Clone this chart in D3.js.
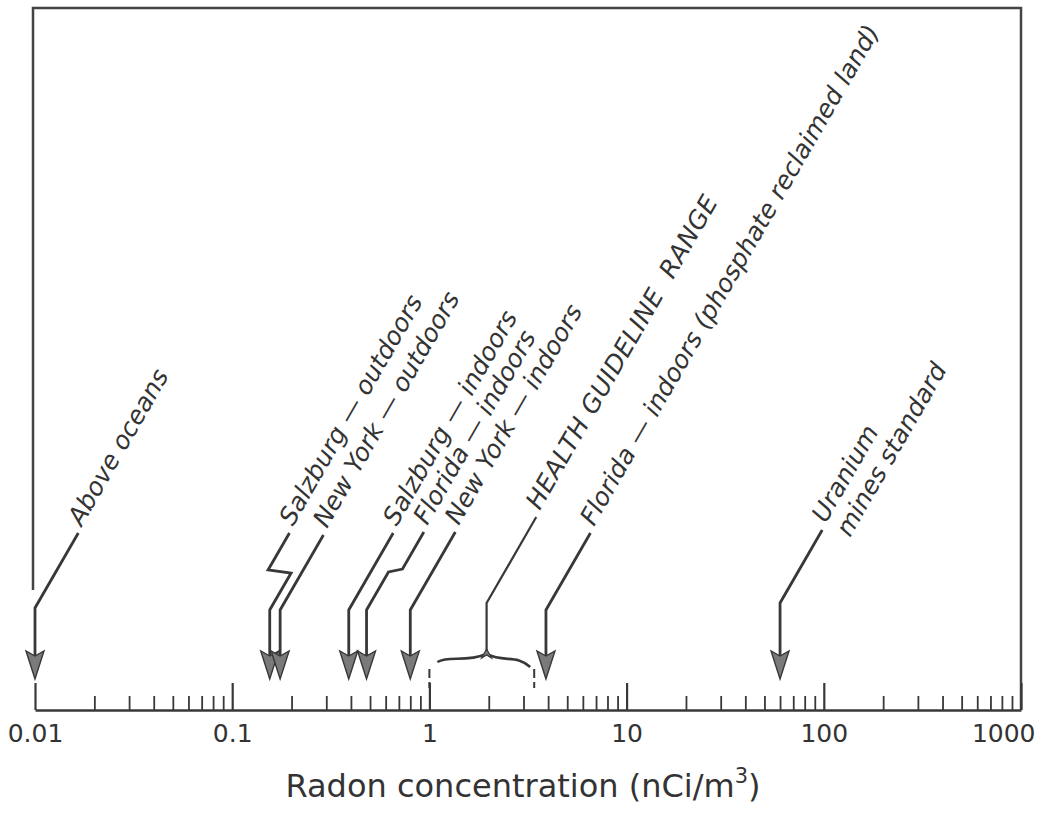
<!DOCTYPE html>
<html>
<head>
<meta charset="utf-8">
<script src="https://cdn.jsdelivr.net/npm/d3@7"></script>
<style>
  html, body { margin: 0; padding: 0; background: #fff; }
  svg { display: block; }
  text { font-family: "DejaVu Sans", "Liberation Sans", sans-serif; fill: #333; }
</style>
</head>
<body>
<svg id="chart"></svg>
<script>
(function () {
    'use strict';

    const width = 1047;
    const height = 816;

    // data
    const majorTicks = [0.01, 0.1, 1, 10, 100, 1000];
    const tickLabels = ['0.01', '0.1', '1', '10', '100', '1000'];
    const labels = [
        'Above oceans',
        'Salzburg \u2014 outdoors',
        'New York \u2014 outdoors',
        'Salzburg \u2014 indoors',
        'Florida \u2014 indoors',
        'New York \u2014 indoors',
        'Florida \u2014 indoors (phosphate reclaimed land)',
        'Uranium|mines standard'
    ];
    const values = [0.01, 0.155, 0.175, 0.39, 0.48, 0.8, 3.9, 60];
    const healthLabel = 'HEALTH GUIDELINE  RANGE';
    const healthRange = [1, 3.4];
    const healthPoint = 1.95;
    const axisTitle = 'Radon concentration (nCi/m';

    // layout for the leader lines (stem top, label end, optional jog)
    const leaders = [
        { top: 608, end: 533 },
        { top: 610, end: 533, jog: { y: 573, dx: -23 } },
        { top: 610, end: 535 },
        { top: 610, end: 533 },
        { top: 610, end: 532, jog: { y: 572, dx: 14 } },
        { top: 610, end: 532 },
        { top: 610, end: 533 },
        { top: 603, end: 530 }
    ];

    const axisY = 710;
    const tipY = 679;
    const headLen = 28;
    const headW = 9;
    const angle = 60;
    const cosA = Math.cos(angle * Math.PI / 180);
    const sinA = Math.sin(angle * Math.PI / 180);
    const labelSize = 25;
    const ink = '#383838';

    const x = d3.scaleLog()
        .domain([0.01, 1000])
        .range([35, 1021]);

    const svg = d3.select('#chart')
        .attr('width', width)
        .attr('height', height)
        .attr('viewBox', [0, 0, width, height]);

    // frame (open at the lower left)
    svg.append('path')
        .attr('d', d3.line()([
            [x(0.01) - 2, 590], [x(0.01) - 2, 8], [x(1000), 8], [x(1000), axisY]
        ]))
        .attr('fill', 'none')
        .attr('stroke', '#444')
        .attr('stroke-width', 2.5);

    // minor ticks
    const minor = [];
    majorTicks.slice(0, -1).forEach(d => {
        for (let k = 2; k <= 9; k++) minor.push(d * k);
    });
    const minorAxis = svg.append('g')
        .attr('transform', `translate(0,${axisY})`)
        .call(d3.axisBottom(x).tickValues(minor).tickSizeInner(-14).tickSizeOuter(0).tickFormat(''));
    minorAxis.select('.domain').remove();
    minorAxis.selectAll('line').attr('stroke', ink).attr('stroke-width', 1.8);

    // major ticks + labels
    const majorAxis = svg.append('g')
        .attr('transform', `translate(0,${axisY})`)
        .call(d3.axisBottom(x)
            .tickValues(majorTicks)
            .tickSizeInner(-27)
            .tickSizeOuter(0)
            .tickPadding(14)
            .tickFormat((d, i) => tickLabels[i]));
    majorAxis.attr('font-family', null).attr('font-size', null);
    majorAxis.select('.domain').attr('stroke', ink).attr('stroke-width', 2.5);
    majorAxis.selectAll('line').attr('stroke', ink).attr('stroke-width', 2.2);
    majorAxis.selectAll('text')
        .style('font-size', '25px')
        .attr('fill', '#333');
    // last label is pulled in so it stays inside the page
    majorAxis.selectAll('text').filter(d => d === 1000)
        .attr('text-anchor', 'end')
        .attr('x', 14);

    // axis title
    const title = svg.append('text')
        .attr('x', 523)
        .attr('y', 797)
        .attr('text-anchor', 'middle')
        .style('font-size', '32px');
    title.append('tspan').text(axisTitle);
    title.append('tspan').attr('dy', -14).style('font-size', '21px').text('3');
    title.append('tspan').attr('dy', 14).text(')');

    const arrowHead = (cx, ty, len, w) => d3.line()([
        [cx, ty], [cx - w, ty - len], [cx, ty - len + 5], [cx + w, ty - len], [cx, ty]
    ]) + 'Z';

    const leaderPath = (x0, L) => {
        const pts = [[x0, tipY - headLen + 5], [x0, L.top]];
        let cx = x0;
        let cy = L.top;
        if (L.jog) {
            cx += (cy - L.jog.y) / Math.tan(angle * Math.PI / 180);
            cy = L.jog.y;
            pts.push([cx, cy]);
            cx += L.jog.dx;
            cy -= 3;
            pts.push([cx, cy]);
        }
        cx += (cy - L.end) / Math.tan(angle * Math.PI / 180);
        cy = L.end;
        pts.push([cx, cy]);
        return pts;
    };

    const addLabel = (pt, text, spacing) => {
        const lines = text.split('|');
        const g = svg.append('g')
            .attr('transform', `translate(${pt[0] + 7 * cosA},${pt[1] - 7 * sinA}) rotate(${-angle})`);
        lines.forEach((t, i) => {
            g.append('text')
                .attr('x', 0)
                .attr('y', i * 28)
                .style('font-size', labelSize + 'px')
                .style('font-style', 'italic')
                .style('letter-spacing', spacing || null)
                .style('white-space', 'pre')
                .text(t);
        });
    };

    // annotations
    values.forEach((v, i) => {
        const x0 = x(v);
        const pts = leaderPath(x0, leaders[i]);
        svg.append('path')
            .attr('d', d3.line()(pts))
            .attr('fill', 'none')
            .attr('stroke', ink)
            .attr('stroke-width', 2.8)
            .attr('stroke-linejoin', 'miter');
        svg.append('path')
            .attr('d', arrowHead(x0, tipY, headLen, headW))
            .attr('fill', '#7a7a7a')
            .attr('stroke', ink)
            .attr('stroke-width', 1.4);
        addLabel(pts[pts.length - 1], labels[i]);
    });

    // health guideline range: dashed end marks + brace
    const hx1 = x(healthRange[0]);
    const hx2 = x(healthRange[1]);
    const hm = x(healthPoint);
    const by = 661;
    healthRange.forEach(v => {
        svg.append('line')
            .attr('x1', x(v)).attr('x2', x(v))
            .attr('y1', 669).attr('y2', 688)
            .attr('stroke', ink)
            .attr('stroke-width', 2)
            .attr('stroke-dasharray', '9,4');
    });
    const l0 = [hx1 + 8, by + 1];
    const r0 = [hx2 - 4, by + 6];
    svg.append('path')
        .attr('d', `M${l0[0]},${l0[1]} C${l0[0] + 12},${by - 6} ${hm - 22},${by + 2} ${hm},${by - 7}`
            + ` C${hm + 18},${by + 2} ${r0[0] - 14},${by - 7} ${r0[0]},${r0[1]}`)
        .attr('fill', 'none')
        .attr('stroke', ink)
        .attr('stroke-width', 2.6);
    svg.append('path')
        .attr('d', d3.line()([[hm, by - 12], [hm - 5, by - 3], [hm, by - 6], [hm + 5, by - 3]]) + 'Z')
        .attr('fill', '#7a7a7a')
        .attr('stroke', ink)
        .attr('stroke-width', 1.2);
    const hpts = leaderPath(hm, { top: 603, end: 517 });
    hpts[0] = [hm, by - 10];
    svg.append('path')
        .attr('d', d3.line()(hpts))
        .attr('fill', 'none')
        .attr('stroke', ink)
        .attr('stroke-width', 2.2);
    addLabel(hpts[hpts.length - 1], healthLabel, '0.5px');
})();
</script>
</body>
</html>
